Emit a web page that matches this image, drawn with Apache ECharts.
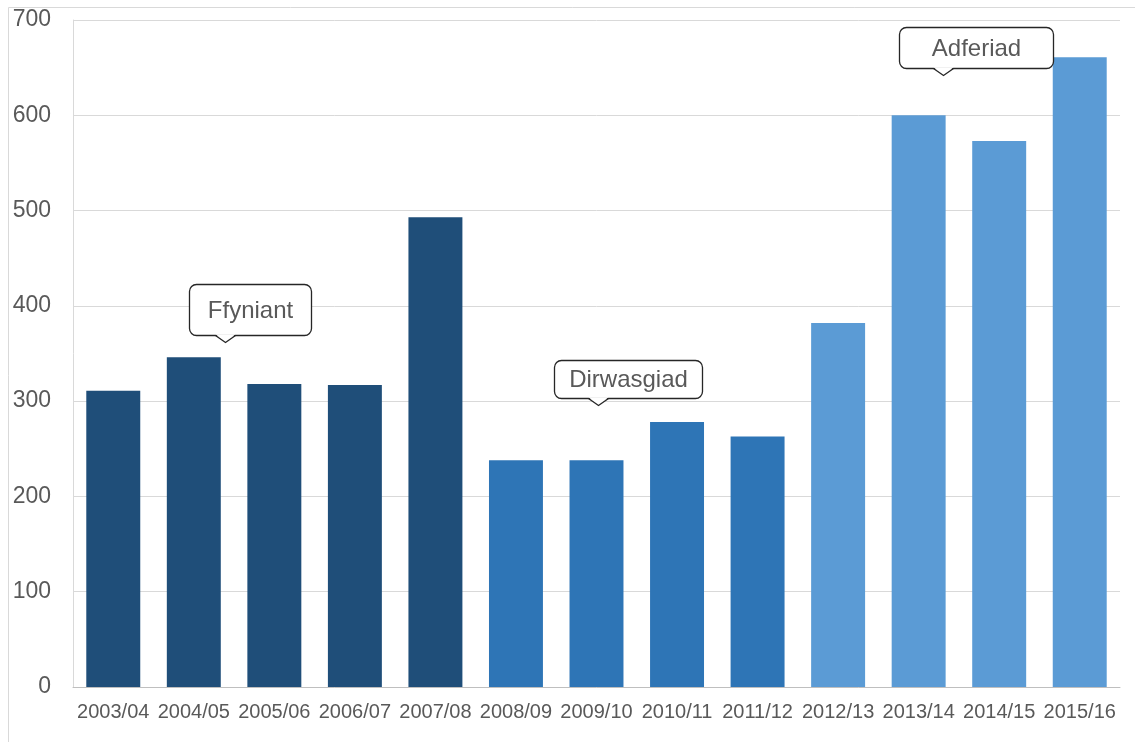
<!DOCTYPE html>
<html><head><meta charset="utf-8">
<script src="https://cdn.jsdelivr.net/npm/echarts@6/dist/echarts.min.js"></script>
<style>html,body{margin:0;padding:0;background:#fff}#c{width:1135px;height:742px}</style>
</head><body><div id="c"></div>
<script>
const categories = ['2003/04','2004/05','2005/06','2006/07','2007/08','2008/09','2009/10','2010/11','2011/12','2012/13','2013/14','2014/15','2015/16'];
const values = [311, 346, 318, 317, 493, 238, 238, 278, 263, 382, 600, 573, 661];
const phaseOfBar = [0,0,0,0,0,1,1,1,1,2,2,2,2];
const phaseColors = ['#1F4E79', '#2E75B6', '#5B9BD5'];
const yTicks = {min: 0, max: 700, interval: 100};
// callouts: text, fractional category position of pointer tip, value at pointer tip
const calloutTexts = ['Ffyniant', 'Dirwasgiad', 'Adferiad'];
const calloutPos = [1.39, 6.02, 10.3];
const calloutVal = [362, 296, 642];
const calloutBox = [[122, 51, 36], [148, 38, 44], [154, 41, 44]]; // width, height, tip offset from left

const chart = echarts.init(document.getElementById('c'));
const font = 'Liberation Sans, Arial, sans-serif';
chart.setOption({
  animation: false,
  grid: {left: 73, right: 15, top: 20, bottom: 55, containLabel: false},
  xAxis: {
    type: 'category', data: categories,
    axisLine: {lineStyle: {color: '#bfbfbf', width: 1}},
    axisTick: {show: false},
    axisLabel: {color: '#595959', fontSize: 20, fontFamily: font, margin: 15, interval: 0}
  },
  yAxis: {
    type: 'value', min: yTicks.min, max: yTicks.max, interval: yTicks.interval,
    axisLine: {show: true, lineStyle: {color: '#d9d9d9'}},
    splitLine: {lineStyle: {color: '#d9d9d9'}},
    axisLabel: {color: '#595959', fontSize: 23, fontFamily: font, margin: 22}
  },
  series: [{
    type: 'bar', barWidth: '67%',
    data: values.map((v, i) => ({value: v, itemStyle: {color: phaseColors[phaseOfBar[i]]}}))
  }]
});

function toPx(pos, val) {
  const i = Math.floor(pos), f = pos - i;
  const a = chart.convertToPixel({gridIndex: 0}, [i, val]);
  const b = chart.convertToPixel({gridIndex: 0}, [i + 1, val]);
  return [a[0] + (b[0] - a[0]) * f, a[1]];
}
const graphics = [{
  type: 'rect', shape: {x: 8.5, y: 7.5, width: 1140, height: 745}, silent: true,
  style: {fill: 'none', stroke: '#d9d9d9', lineWidth: 1}, z: -1
}];
calloutTexts.forEach((t, k) => {
  const tip = toPx(calloutPos[k], calloutVal[k]);
  const [w, h, dx] = calloutBox[k];
  const ph = 7, pw = 10;
  const x = Math.round(tip[0] - dx) + 0.5, y = Math.round(tip[1] - ph - h) + 0.5;
  const tx = x + dx, by = y + h;
  graphics.push({
    type: 'rect', shape: {x: x, y: y, width: w, height: h, r: 7},
    style: {fill: '#ffffff', stroke: '#262626', lineWidth: 1.3}, z: 10
  });
  graphics.push({
    type: 'polygon', shape: {points: [[tx - pw, by - 1.3], [tx + pw, by - 1.3], [tx, by + ph]]},
    style: {fill: '#ffffff', stroke: null}, z: 11
  });
  graphics.push({
    type: 'polyline', shape: {points: [[tx - pw, by], [tx, by + ph], [tx + pw, by]]},
    style: {fill: null, stroke: '#262626', lineWidth: 1.3}, z: 12
  });
  graphics.push({
    type: 'text', x: x + w / 2, y: y + h / 2 + 1, z: 13,
    style: {text: t, fill: '#595959', fontSize: 24, fontFamily: font, align: 'center', verticalAlign: 'middle'}
  });
});
chart.setOption({graphic: graphics});
</script></body></html>
